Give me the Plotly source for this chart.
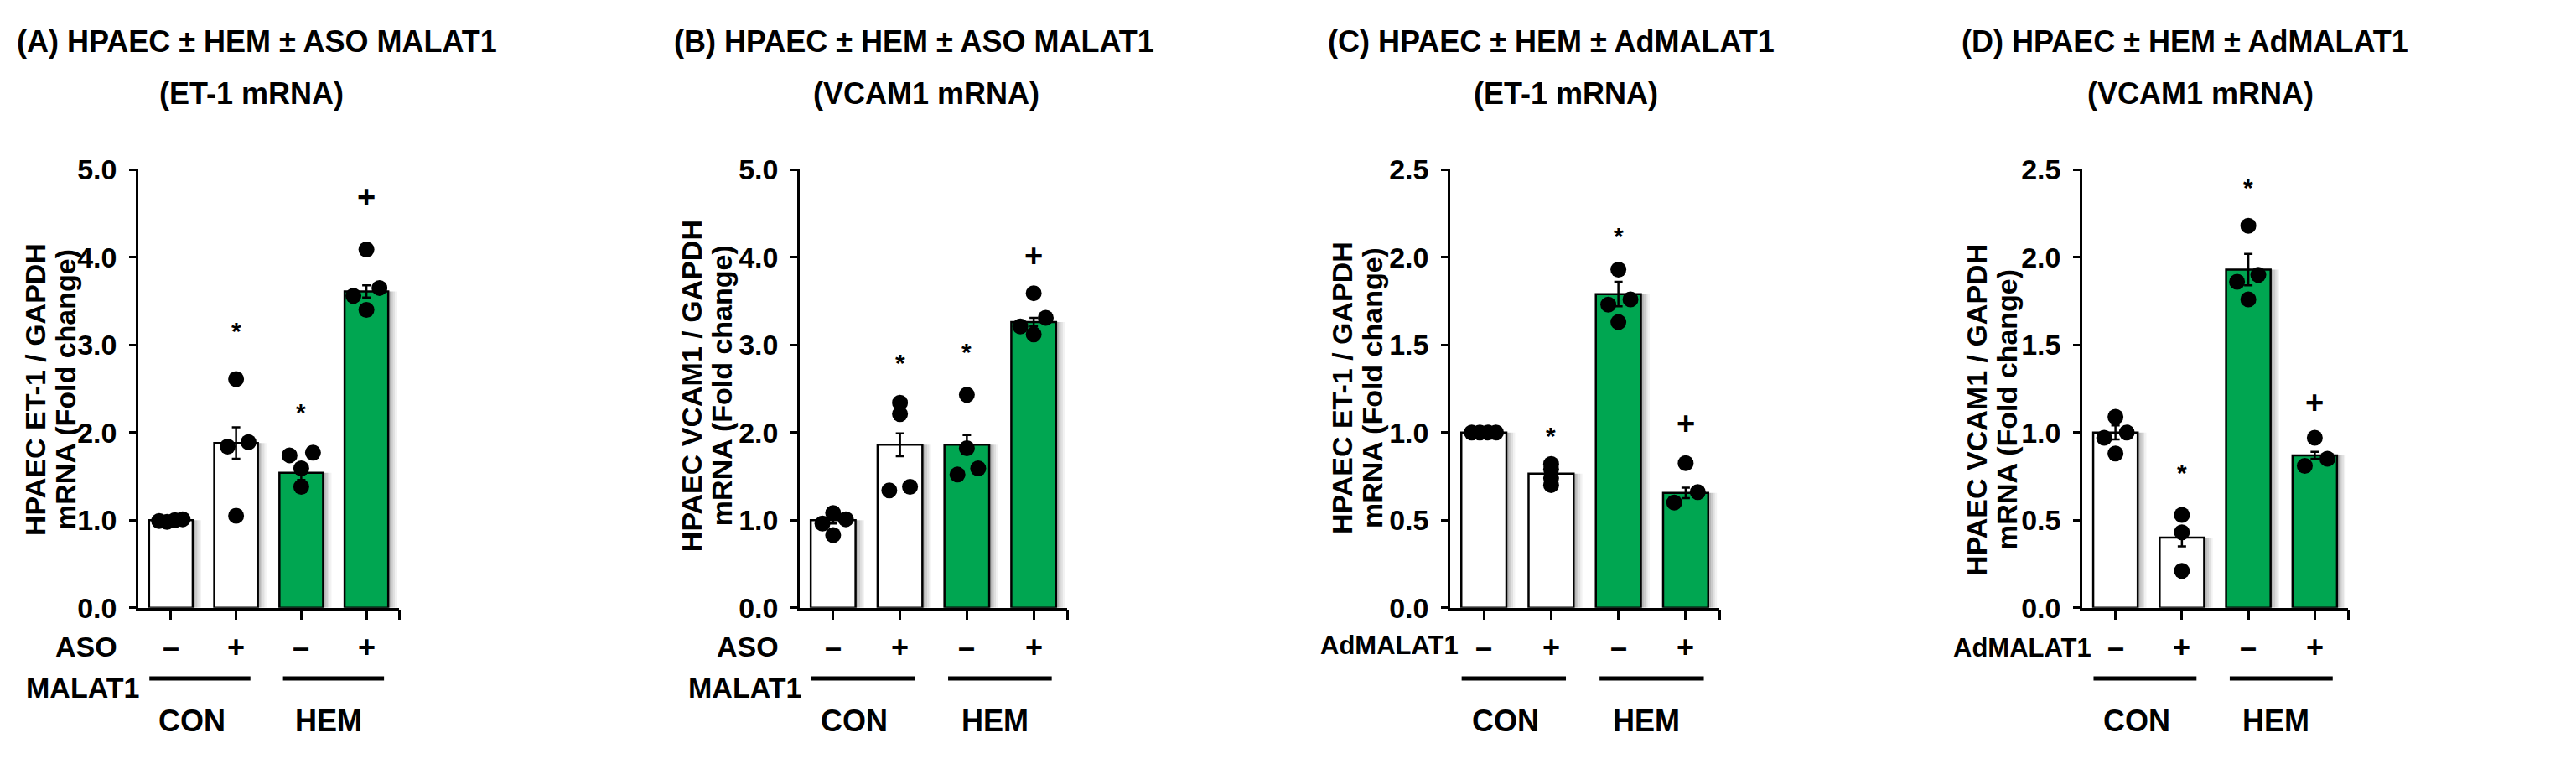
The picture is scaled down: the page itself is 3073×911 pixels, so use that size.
import plotly.graph_objects as go

# ---------------- data ----------------
signs = ["–", "+", "–", "+"]
groups = ["CON", "HEM"]
bar_colors = ["#FFFFFF", "#FFFFFF", "#00A651", "#00A651"]

title_line1 = ["(A) HPAEC ± HEM ± ASO MALAT1", "(B) HPAEC ± HEM ± ASO MALAT1",
               "(C) HPAEC ± HEM ± AdMALAT1", "(D) HPAEC ± HEM ± AdMALAT1"]
title_line2 = ["(ET-1 mRNA)", "(VCAM1 mRNA)", "(ET-1 mRNA)", "(VCAM1 mRNA)"]
ytitle_line1 = ["HPAEC ET-1 / GAPDH", "HPAEC VCAM1 / GAPDH",
                "HPAEC ET-1 / GAPDH", "HPAEC VCAM1 / GAPDH"]
ytitle_line2 = "mRNA (Fold change)"
treat_rows = [["ASO", "MALAT1"], ["ASO", "MALAT1"], ["AdMALAT1"], ["AdMALAT1"]]

yticks_a = [0.0, 1.0, 2.0, 3.0, 4.0, 5.0]
yticks_c = [0.0, 0.5, 1.0, 1.5, 2.0, 2.5]

a_mean = [1.00, 1.88, 1.54, 3.61]
a_sem = [0.02, 0.18, 0.08, 0.07]
a_pts = [[0.99, 1.01, 1.00, 0.98], [2.61, 1.89, 1.84, 1.05],
         [1.74, 1.77, 1.59, 1.38], [4.09, 3.65, 3.56, 3.40]]
a_sig = ["", "*", "*", "+"]
a_sig_y = [None, 3.16, 2.23, 4.69]

b_mean = [1.00, 1.86, 1.86, 3.26]
b_sem = [0.04, 0.13, 0.11, 0.05]
b_pts = [[1.08, 1.01, 0.96, 0.83], [2.34, 1.38, 1.34, 2.21],
         [2.43, 1.59, 1.52, 1.82], [3.59, 3.31, 3.21, 3.12]]
b_sig = ["", "*", "*", "+"]
b_sig_y = [None, 2.80, 2.92, 4.02]

c_mean = [1.00, 0.765, 1.79, 0.655]
c_sem = [0.005, 0.03, 0.07, 0.03]
c_pts = [[1.00, 1.00, 1.00, 1.00], [0.82, 0.79, 0.74, 0.70],
         [1.93, 1.76, 1.73, 1.63], [0.825, 0.66, 0.60]]
c_sig = ["", "*", "*", "+"]
c_sig_y = [None, 0.98, 2.12, 1.05]

d_mean = [1.00, 0.40, 1.93, 0.87]
d_sem = [0.04, 0.05, 0.09, 0.02]
d_pts = [[1.09, 1.00, 0.97, 0.88], [0.53, 0.43, 0.21],
         [2.18, 1.90, 1.86, 1.76], [0.97, 0.85, 0.81]]
d_sig = ["", "*", "*", "+"]
d_sig_y = [None, 0.77, 2.40, 1.17]

# ---------------- layout / style constants ----------------
W, H = 3073, 911
FONT = "Liberation Sans, Arial, sans-serif"
BAR_W = 0.67

# jitter offsets (style only) for the dots on each bar
jit = {
    0: [[-0.18, 0.18, 0.06, -0.06], [0.0, 0.19, -0.13, 0.0], [-0.18, 0.18, 0.0, 0.0], [0.0, 0.2, -0.2, 0.0]],
    1: [[0.0, 0.19, -0.16, 0.0], [0.0, 0.15, -0.16, 0.0], [0.0, 0.17, -0.14, 0.0], [0.0, 0.18, -0.2, 0.0]],
    2: [[-0.18, -0.06, 0.06, 0.18], [0.0, 0.0, 0.0, 0.0], [0.0, 0.18, -0.15, 0.0], [0.0, 0.18, -0.17]],
    3: [[0.0, 0.17, -0.17, 0.0], [0.0, 0.0, 0.0], [0.0, 0.15, -0.17, 0.0], [0.0, 0.19, -0.15]],
}

# pixel anchors of each panel (style/layout only)
panels = [
    dict(mean=a_mean, sem=a_sem, pts=a_pts, sig=a_sig, sig_y=a_sig_y, ticks=yticks_a,
         px=(157, 468), t1x=298, t2x=292, yt=(34, 70), ytc=457,
         rows=[(95, 776, "center"), (90, 828, "center")]),
    dict(mean=b_mean, sem=b_sem, pts=b_pts, sig=b_sig, sig_y=b_sig_y, ticks=yticks_a,
         px=(946, 1265), t1x=1082, t2x=1097, yt=(817, 853), ytc=452,
         rows=[(884, 776, "center"), (880, 828, "center")]),
    dict(mean=c_mean, sem=c_sem, pts=c_pts, sig=c_sig, sig_y=c_sig_y, ticks=yticks_c,
         px=(1722, 2043), t1x=1842, t2x=1860, yt=(1593, 1629), ytc=455,
         rows=[(1734, 775, "right")]),
    dict(mean=d_mean, sem=d_sem, pts=d_pts, sig=d_sig, sig_y=d_sig_y, ticks=yticks_c,
         px=(2476, 2793), t1x=2598, t2x=2617, yt=(2350, 2386), ytc=482,
         rows=[(2489, 778, "right")]),
]

Y_TOP, Y_ZERO = 183, 728
TITLE_Y1, TITLE_Y2 = 24, 88


def fx(p):
    return p / W


def fy(p):
    return 1 - p / H


fig = go.Figure()
annotations = []
shapes = []
xs = [0, 1, 2, 3]

for k, P in enumerate(panels):
    sfx = "" if k == 0 else str(k + 1)
    xa, ya = "x" + sfx, "y" + sfx
    # soft drop shadow to the right of each bar
    for d, a in [(0.13, 0.05), (0.10, 0.07), (0.07, 0.09), (0.04, 0.11)]:
        fig.add_trace(go.Bar(x=xs, y=P["mean"], width=BAR_W, offset=-BAR_W / 2 + d,
                             marker=dict(color=f"rgba(0,0,0,{a})", line=dict(width=0)),
                             xaxis=xa, yaxis=ya, showlegend=False, hoverinfo="skip"))
    # bars
    fig.add_trace(go.Bar(x=xs, y=P["mean"], width=BAR_W, offset=-BAR_W / 2,
                         marker=dict(color=bar_colors, line=dict(color="black", width=2.5)),
                         xaxis=xa, yaxis=ya, showlegend=False))
    # individual dots
    dx, dy = [], []
    for i, pts in enumerate(P["pts"]):
        for j, v in enumerate(pts):
            dx.append(i + jit[k][i][j])
            dy.append(v)
    fig.add_trace(go.Scatter(x=dx, y=dy, mode="markers",
                             marker=dict(color="black", size=19, line=dict(width=0)),
                             xaxis=xa, yaxis=ya, showlegend=False, cliponaxis=False))
    # SEM error bars
    fig.add_trace(go.Scatter(x=xs, y=P["mean"], mode="markers",
                             marker=dict(size=1, color="rgba(0,0,0,0)"),
                             error_y=dict(type="data", array=P["sem"], visible=True,
                                          color="black", thickness=2.5, width=5),
                             xaxis=xa, yaxis=ya, showlegend=False, cliponaxis=False))

    ymax = P["ticks"][-1]
    fig.update_layout(**{
        "xaxis" + sfx: dict(domain=[fx(P["px"][0]), fx(P["px"][1])], range=[-0.5, 3.5],
                            anchor=ya, showgrid=False, zeroline=False, showline=True,
                            linecolor="black", linewidth=2.5, ticks="outside",
                            tickvals=[0, 1, 2, 3, 3.5], ticklen=12, tickwidth=2.5,
                            tickcolor="black", showticklabels=False, fixedrange=True),
        "yaxis" + sfx: dict(domain=[fy(Y_ZERO), fy(Y_TOP)], range=[0, ymax],
                            anchor=xa, showgrid=False, zeroline=False, showline=True,
                            linecolor="black", linewidth=2.5, ticks="outside",
                            tickvals=P["ticks"], tickformat=".1f", ticklen=8, tickwidth=2.5,
                            tickcolor="black", ticklabelstandoff=8,
                            tickfont=dict(family=FONT, size=34, color="black", weight="bold"),
                            fixedrange=True),
    })

    # two-line panel titles
    annotations.append(dict(text=title_line1[k], x=fx(P["t1x"]), y=fy(TITLE_Y1), xref="paper",
                            yref="paper", xanchor="center", yanchor="middle", showarrow=False,
                            font=dict(family=FONT, size=36, color="black", weight="bold")))
    annotations.append(dict(text=title_line2[k], x=fx(P["t2x"]), y=fy(TITLE_Y2), xref="paper",
                            yref="paper", xanchor="center", yanchor="middle", showarrow=False,
                            font=dict(family=FONT, size=36, color="black", weight="bold")))
    # y titles (two rotated lines)
    for txt, xc in [(ytitle_line1[k], P["yt"][0]), (ytitle_line2, P["yt"][1])]:
        annotations.append(dict(text=txt, x=fx(xc), y=fy(P["ytc"]), xref="paper", yref="paper",
                                xanchor="center", yanchor="middle", textangle=-90, showarrow=False,
                                font=dict(family=FONT, size=34, color="black", weight="bold")))
    # significance marks
    for i, (s, sy) in enumerate(zip(P["sig"], P["sig_y"])):
        if s:
            annotations.append(dict(text=s, x=i, y=sy, xref=xa, yref=ya, showarrow=False,
                                    xanchor="center", yanchor="middle",
                                    font=dict(family=FONT, size=30 if s == "*" else 38,
                                              color="black", weight="bold")))
    # +/- row
    for i, s in enumerate(signs):
        annotations.append(dict(text=s, x=i, y=fy(777), xref=xa, yref="paper", showarrow=False,
                                xanchor="center", yanchor="middle",
                                font=dict(family=FONT, size=36, color="black", weight="bold")))
    # treatment row labels
    for txt, (rx, ry, anc) in zip(treat_rows[k], P["rows"]):
        annotations.append(dict(text=txt, x=fx(rx), y=fy(ry), xref="paper", yref="paper",
                                showarrow=False, xanchor=anc, yanchor="middle",
                                font=dict(family=FONT, size=34 if len(treat_rows[k]) == 2 else 31,
                                          color="black", weight="bold")))
    # group underline + labels
    for g, (x0, x1, xc) in zip(groups, [(-0.33, 1.22, 0.32), (1.72, 3.27, 2.42)]):
        shapes.append(dict(type="line", xref=xa, yref="paper", x0=x0, x1=x1,
                           y0=fy(816), y1=fy(816), line=dict(color="black", width=5)))
        annotations.append(dict(text=g, x=xc, y=fy(869), xref=xa, yref="paper", showarrow=False,
                                xanchor="center", yanchor="middle",
                                font=dict(family=FONT, size=36, color="black", weight="bold")))

fig.update_layout(width=W, height=H, autosize=False, margin=dict(l=0, r=0, t=0, b=0),
                  paper_bgcolor="white", plot_bgcolor="white", barmode="overlay",
                  annotations=annotations, shapes=shapes, showlegend=False)

fig.write_html("out.html")
